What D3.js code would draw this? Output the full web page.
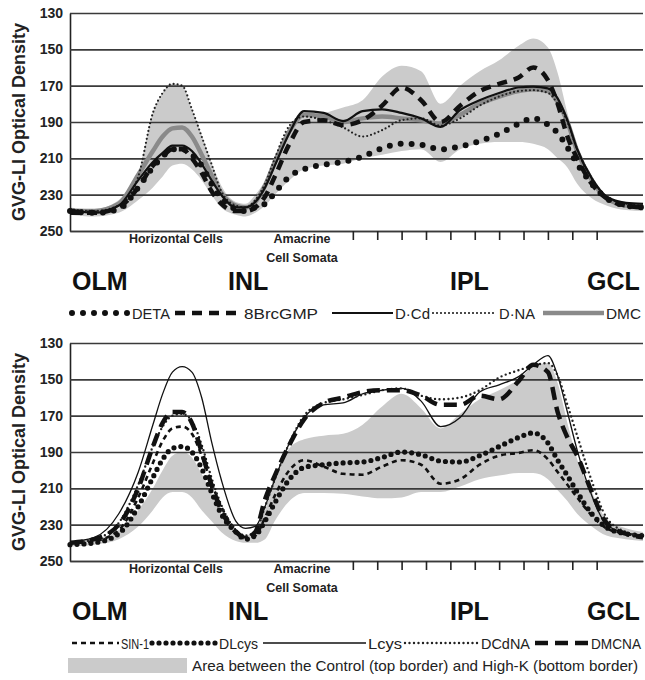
<!DOCTYPE html>
<html>
<head>
<meta charset="utf-8">
<script src="https://cdn.jsdelivr.net/npm/d3@7"></script>
<style>
  body { margin: 0; background: #fff; }
  svg { display: block; font-family: "Liberation Sans", Arial, sans-serif; }
</style>
</head>
<body>
<div id="chart"></div>
<script>
// position across the retina (arbitrary units, OLM -> GCL)
var xPos = [0,10,20,28,34,38,42,46,50,54,58,62,68,72,76,80,84,90,96,104,112,120,128,136,144,152,160,168,176,184,190,196,200,204,208,214,220,228,235];
var xTicks = [116,126,136,146,156,166,176,186,196,206,216];
var yTicks = [130,150,170,190,210,230,250];

// top panel
var deta    = [239,240,238,226,215,209,205,205,208,214,224,232,238,239,237,235,229,220,216,213.5,212,209,204.5,202,202.5,205,203.5,200.5,196.5,191,188,191.5,196,204,213,224,232,236,237];
var brcgmp  = [240,240,237,226,214,209,205,205,210,218,228,235,239,239,237,231,220,202,190,189,191.7,189,181,171,178,190,181,173,169,165.5,160,167,180,198,210,224,232,236,237];
var dcd     = [238,240,236,222,212,207,203,203,206,213,222,230,237,237,234,226,214,196,184,185,189.5,184,183,185,188,192.7,183.4,178,174,171,170.5,171.5,177,189,205,221,231,234.5,235];
var dna     = [238,239,236,220,185,174,169,170,183,198,213,228,236,237,233,224,210,192,187,189,193,198,194.5,189,188,192,188,181,176,173,172.5,174,180,190,205,221,231,235,236];
var dmc     = [239,239,235,219,206,198,193.5,193,198,208,219,229,236,237,234,225,212,195,186,187,190,188,187,188,189,191,186,180,176,173,172,173,179,190,206,222,232,236,237];
var bandTopA = [237,238,233,218,185,174,169,170,183,197,212,225,234,235,230,222,209,193,186,185,182,178,165,159,162,180,170,162,156,148,144,149,163,185,203,220,230,234,235];
var bandBotA = [241,242,240,233,226,220,214,213,216,222,230,237,241,242,240,236,230,222,216,214,213,210,208,206,205,212,205,202,201,201,202,205,210,215,224,232,236,238.5,239];

// bottom panel
var sin1    = [240,239,233,215,196,184,177,176,180,192,207,220,233,237,236,226,214,200,194.5,198,202,202.5,198,194.5,197,207.5,205,197,192,190.5,189,194,201,208,215,225,232,235,236];
var dlcys   = [241,240,235,220,204,194,188,187,190,199,212,224,234,238,236,228,218,205,198.5,197,196,195.5,193,190,191.5,195,195.5,192,187,182,179.5,185,194.5,203,212,224,231.5,235,236];
var lcys    = [239.5,237,224,201,175,158,146,143,146,160,184,205,228,232,231,220,205,185,171,164,163,158,156,155,162,176,171,157,153,148.5,142,137,148,168,189,214,230,234.5,236];
var dcdna   = [240,238,229,208,187,176,170,169,173,186,204,219,233,236,234,220,205,185,170,163,161,158.6,156,155,159,161,160,156,149,145,142.5,141,148,164,181,206,226,234,236];
var dmcna   = [240,238,230,210,187,174,168,168,174,190,208,222,234,237,234,216,203,186,172,163,160,157,156,156,159,164,164,159,161,151,142,146,168,182,192,212,229,235,237];
var controlB = [240,238,233,222,210,200,192,190,193,202,213,224,233,236,233,222,205,188,183,181,180,175,165,158,166,177,169,161,156,150,143,141,152,174,194,212,227,232,234];
var highKB   = [242,241,238,231,222,215,212,212,215,222,228,234,239,240,240,238,228,217,212.6,212.5,213,214.5,215.5,215,212,212,209,205,203,201.6,201.6,205,211,217,224,231,236,238,239];

var layers = ["OLM","INL","IPL","GCL"];

var margin = {left: 70, right: 2},
    width = 645 - margin.left - margin.right,
    panelTop = [13, 343],
    plotH = 218;

var svg = d3.select("#chart").append("svg")
    .attr("width", 645)
    .attr("height", 680);

var x = d3.scaleLinear().domain([0, 235]).range([0, width]);

var styles = {
  "DETA":    {stroke: "#111", w: 6,   dash: "0 11",  cap: "round"},
  "8BrcGMP": {stroke: "#111", w: 4.5, dash: "10 7",  cap: "butt"},
  "D·Cd":    {stroke: "#111", w: 2.2, dash: null,    cap: "butt"},
  "D·NA":    {stroke: "#222", w: 2.2, dash: "0 4",   cap: "round"},
  "DMC":     {stroke: "#8a8a8a", w: 4.5, dash: null, cap: "butt"},
  "SIN-1":   {stroke: "#111", w: 2.6, dash: "5 4",   cap: "butt"},
  "DLcys":   {stroke: "#111", w: 5.2, dash: "0 7",   cap: "round"},
  "Lcys":    {stroke: "#111", w: 1.3, dash: null,    cap: "butt"},
  "DCdNA":   {stroke: "#222", w: 2.4, dash: "0 4.5", cap: "round"},
  "DMCNA":   {stroke: "#111", w: 4.5, dash: "13 7",  cap: "butt"}
};

// legend: name, sample start, sample end, label width
var panels = [
  {
    top: panelTop[0], bandTop: bandTopA, bandBot: bandBotA,
    series: [["DMC", dmc], ["D·NA", dna], ["D·Cd", dcd], ["8BrcGMP", brcgmp], ["DETA", deta]],
    legend: [["DETA", 72, 130, 38], ["8BrcGMP", 175, 242, 74], ["D·Cd", 332, 393, 35], ["D·NA", 433, 497, 36], ["DMC", 543, 604, 35]],
    band: false
  },
  {
    top: panelTop[1], bandTop: controlB, bandBot: highKB,
    series: [["DLcys", dlcys], ["SIN-1", sin1], ["Lcys", lcys], ["DCdNA", dcdna], ["DMCNA", dmcna]],
    legend: [["SIN-1", 72, 119, 28], ["DLcys", 152, 217, 39], ["Lcys", 263, 366, 34], ["DCdNA", 405, 479, 49], ["DMCNA", 535, 589, 50]],
    band: true
  }
];

panels.forEach(function(p) {
  var y = d3.scaleLinear().domain([130, 250]).range([0, plotH]);
  var g = svg.append("g").attr("transform", "translate(" + margin.left + "," + p.top + ")");

  // shaded control / high-K area
  var area = d3.area()
      .x(function(d, i) { return x(xPos[i]); })
      .y0(function(d, i) { return y(p.bandBot[i]); })
      .y1(function(d) { return y(d); })
      .curve(d3.curveMonotoneX);

  g.append("path")
      .datum(p.bandTop)
      .attr("d", area)
      .attr("fill", "#cbcbcb");

  // y axis with gridlines
  var yAxis = d3.axisLeft(y).tickValues(yTicks).tickSize(-width).tickSizeOuter(0).tickPadding(7);
  var ya = g.append("g").attr("class", "y axis").call(yAxis);
  ya.selectAll(".tick line").attr("stroke", "#3a3a3a").attr("stroke-width", 1.6);
  ya.select(".domain").attr("stroke", "#222").attr("stroke-width", 1.6);
  ya.selectAll("text").attr("font-size", 14).attr("font-weight", "bold").attr("fill", "#222");

  // x ticks across the IPL
  var xAxis = d3.axisBottom(x).tickValues(xTicks).tickSize(9).tickSizeOuter(0).tickFormat("");
  var xa = g.append("g").attr("class", "x axis")
      .attr("transform", "translate(0," + plotH + ")")
      .call(xAxis);
  xa.select(".domain").attr("stroke", "#3a3a3a").attr("stroke-width", 1.6);
  xa.selectAll(".tick line").attr("stroke", "#222").attr("stroke-width", 1.6);

  var line = d3.line()
      .x(function(d, i) { return x(xPos[i]); })
      .y(function(d) { return y(d); })
      .curve(d3.curveMonotoneX);

  p.series.forEach(function(s) {
    var st = styles[s[0]];
    g.append("path")
        .datum(s[1])
        .attr("d", line)
        .attr("fill", "none")
        .attr("stroke", st.stroke)
        .attr("stroke-width", st.w)
        .attr("stroke-linecap", st.cap)
        .attr("stroke-dasharray", st.dash);
  });

  // y title
  svg.append("text")
      .attr("transform", "translate(25," + (p.top + plotH / 2) + ") rotate(-90)")
      .attr("text-anchor", "middle")
      .attr("font-size", 18)
      .attr("font-weight", "bold")
      .attr("fill", "#222")
      .text("GVG-LI Optical Density");

  // region labels
  var lab = svg.append("g").attr("fill", "#222").attr("font-weight", "bold").attr("font-size", 12.5);
  lab.append("text").attr("x", 176).attr("y", p.top + 230).attr("text-anchor", "middle")
      .attr("textLength", 94).attr("lengthAdjust", "spacingAndGlyphs").text("Horizontal Cells");
  lab.append("text").attr("x", 302).attr("y", p.top + 230).attr("text-anchor", "middle").text("Amacrine");
  lab.append("text").attr("x", 302).attr("y", p.top + 249).attr("text-anchor", "middle").text("Cell Somata");

  var layerX = [72, 228, 450, 587];
  layers.forEach(function(l, i) {
    svg.append("text")
        .attr("x", layerX[i]).attr("y", p.top + 277)
        .attr("font-size", 25).attr("font-weight", "bold")
        .attr("fill", "#111")
        .text(l);
  });

  // legend
  var ly = p.top + 300;
  p.legend.forEach(function(l) {
    var st = styles[l[0]];
    svg.append("line")
        .attr("x1", l[1]).attr("x2", l[2])
        .attr("y1", ly).attr("y2", ly)
        .attr("stroke", st.stroke)
        .attr("stroke-width", st.w)
        .attr("stroke-linecap", st.cap)
        .attr("stroke-dasharray", st.dash);
    svg.append("text")
        .attr("x", l[2] + 2).attr("y", ly + 6)
        .attr("font-size", 15)
        .attr("fill", "#222")
        .attr("textLength", l[3])
        .attr("lengthAdjust", "spacingAndGlyphs")
        .text(l[0]);
  });

  if (p.band) {
    svg.append("rect")
        .attr("x", 68).attr("y", ly + 15)
        .attr("width", 119).attr("height", 15)
        .attr("fill", "#cbcbcb");
    svg.append("text")
        .attr("x", 192).attr("y", ly + 28)
        .attr("font-size", 15)
        .attr("fill", "#222")
        .attr("textLength", 446)
        .attr("lengthAdjust", "spacingAndGlyphs")
        .text("Area between the Control (top border) and High-K (bottom border)");
  }
});
</script>
</body>
</html>
